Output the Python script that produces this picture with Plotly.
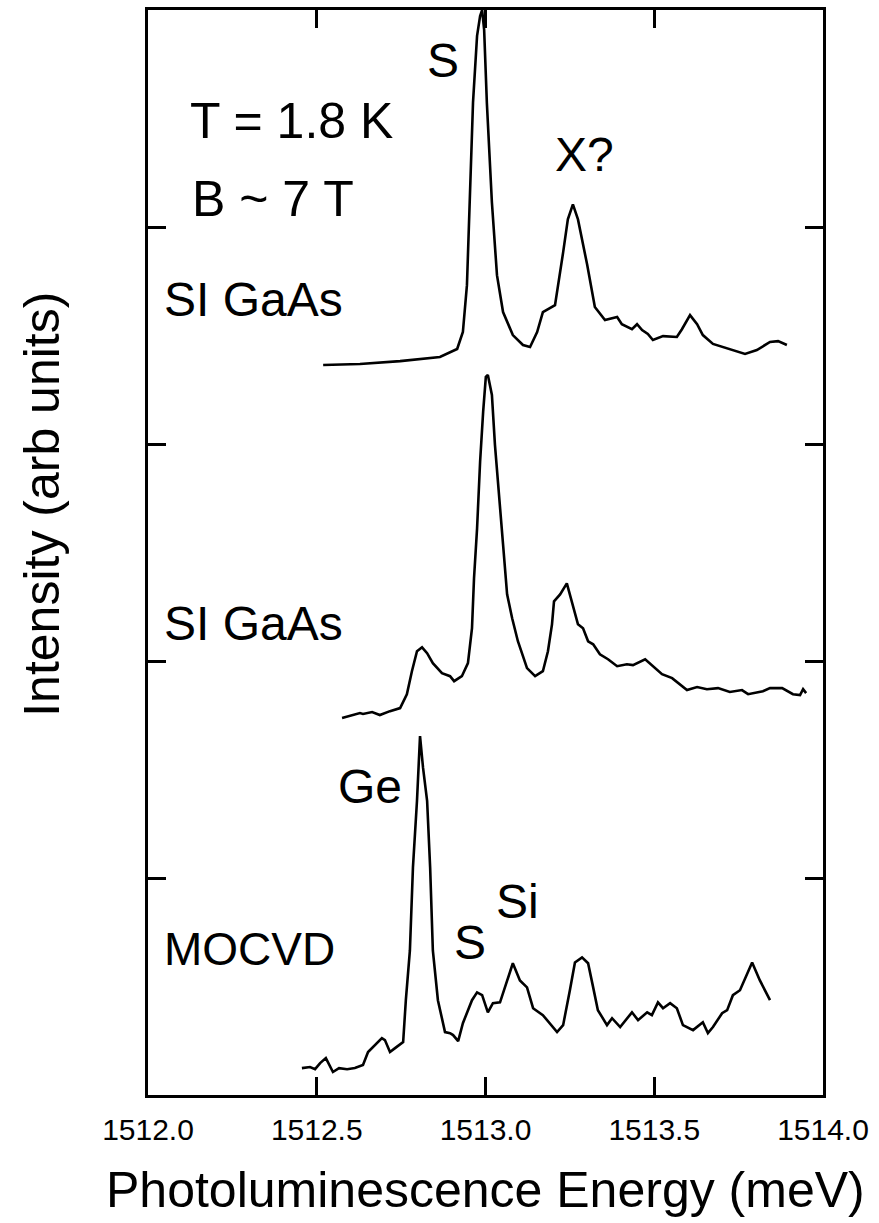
import plotly.graph_objects as go

# ---- data (energy in meV, intensity in arb. units incl. vertical offset) ----
top_energy = [1512.519, 1512.628, 1512.747, 1512.865, 1512.916, 1512.933, 1512.945, 1512.954, 1512.963,
              1512.975, 1512.984, 1512.990, 1512.996, 1513.004, 1513.019, 1513.034, 1513.052, 1513.081,
              1513.111, 1513.132, 1513.153, 1513.170, 1513.206, 1513.230, 1513.244, 1513.259, 1513.274,
              1513.301, 1513.324, 1513.354, 1513.390, 1513.404, 1513.434, 1513.449, 1513.464, 1513.481,
              1513.496, 1513.526, 1513.567, 1513.582, 1513.606, 1513.627, 1513.644, 1513.674, 1513.724,
              1513.769, 1513.804, 1513.843, 1513.867, 1513.893]
top_intensity = [3.364, 3.369, 3.382, 3.401, 3.438, 3.516, 3.732, 4.113, 4.573,
                 4.881, 4.972, 5.000, 4.908, 4.573, 4.113, 3.778, 3.608, 3.502,
                 3.456, 3.447, 3.516, 3.608, 3.640, 3.883, 4.035, 4.104, 4.035,
                 3.828, 3.631, 3.571, 3.585, 3.552, 3.529, 3.552, 3.525, 3.507,
                 3.479, 3.497, 3.493, 3.529, 3.594, 3.552, 3.502, 3.461, 3.438,
                 3.415, 3.433, 3.470, 3.474, 3.456]

mid_energy = [1512.575, 1512.599, 1512.628, 1512.637, 1512.664, 1512.687, 1512.717, 1512.747, 1512.767,
              1512.782, 1512.797, 1512.812, 1512.827, 1512.844, 1512.871, 1512.895, 1512.907, 1512.930,
              1512.948, 1512.960, 1512.966, 1512.975, 1512.984, 1512.993, 1513.001, 1513.007, 1513.019,
              1513.028, 1513.043, 1513.052, 1513.064, 1513.079, 1513.096, 1513.123, 1513.147, 1513.170,
              1513.185, 1513.197, 1513.203, 1513.221, 1513.241, 1513.256, 1513.274, 1513.289, 1513.304,
              1513.319, 1513.339, 1513.363, 1513.390, 1513.419, 1513.437, 1513.473, 1513.496, 1513.523,
              1513.553, 1513.570, 1513.597, 1513.627, 1513.656, 1513.689, 1513.724, 1513.760, 1513.778,
              1513.822, 1513.843, 1513.879, 1513.911, 1513.932, 1513.941, 1513.950]
mid_intensity = [1.737, 1.746, 1.760, 1.756, 1.765, 1.751, 1.769, 1.783, 1.847,
                 1.953, 2.045, 2.063, 2.036, 1.990, 1.944, 1.930, 1.907, 1.930,
                 1.990, 2.151, 2.381, 2.610, 2.918, 3.148, 3.309, 3.318, 3.226,
                 2.996, 2.688, 2.537, 2.307, 2.197, 2.091, 1.967, 1.930, 1.953,
                 2.045, 2.169, 2.275, 2.307, 2.358, 2.275, 2.169, 2.151, 2.091,
                 2.077, 2.031, 2.008, 1.976, 1.985, 1.981, 2.008, 1.976, 1.939,
                 1.921, 1.898, 1.866, 1.880, 1.870, 1.875, 1.857, 1.866, 1.847,
                 1.861, 1.875, 1.875, 1.847, 1.843, 1.870, 1.852]

bot_energy = [1512.456, 1512.480, 1512.495, 1512.510, 1512.527, 1512.548, 1512.566, 1512.590, 1512.613,
              1512.637, 1512.652, 1512.667, 1512.693, 1512.702, 1512.717, 1512.732, 1512.756, 1512.764,
              1512.776, 1512.785, 1512.797, 1512.806, 1512.815, 1512.827, 1512.836, 1512.844, 1512.859,
              1512.880, 1512.895, 1512.904, 1512.919, 1512.933, 1512.960, 1512.975, 1512.990, 1513.007,
              1513.022, 1513.043, 1513.064, 1513.081, 1513.102, 1513.123, 1513.141, 1513.170, 1513.212,
              1513.230, 1513.250, 1513.265, 1513.286, 1513.304, 1513.319, 1513.333, 1513.360, 1513.375,
              1513.399, 1513.434, 1513.452, 1513.479, 1513.493, 1513.511, 1513.526, 1513.547, 1513.567,
              1513.585, 1513.615, 1513.644, 1513.659, 1513.674, 1513.701, 1513.716, 1513.733, 1513.754,
              1513.790, 1513.813, 1513.843]
bot_intensity = [0.124, 0.129, 0.119, 0.147, 0.170, 0.106, 0.124, 0.119, 0.124,
                 0.138, 0.198, 0.221, 0.262, 0.253, 0.198, 0.216, 0.244, 0.437,
                 0.666, 1.048, 1.356, 1.654, 1.507, 1.356, 1.048, 0.666, 0.437,
                 0.290, 0.285, 0.276, 0.248, 0.331, 0.437, 0.473, 0.460, 0.381,
                 0.423, 0.427, 0.528, 0.607, 0.528, 0.496, 0.400, 0.368, 0.290,
                 0.322, 0.483, 0.611, 0.634, 0.607, 0.496, 0.391, 0.322, 0.354,
                 0.313, 0.381, 0.345, 0.381, 0.368, 0.427, 0.400, 0.423, 0.400,
                 0.322, 0.299, 0.335, 0.285, 0.313, 0.377, 0.391, 0.460, 0.483,
                 0.611, 0.528, 0.437]

x_tick_vals = [1512.0, 1512.5, 1513.0, 1513.5, 1514.0]
x_tick_text = ["1512.0", "1512.5", "1513.0", "1513.5", "1514.0"]
y_tick_vals = [1, 2, 3, 4]

# in-plot labels: text, energy, intensity, anchor
label_text = ["S", "T = 1.8 K", "B ~ 7 T", "SI GaAs", "X?", "SI GaAs", "Ge", "S", "Si", "MOCVD"]
label_x = [1512.874, 1512.119, 1512.124, 1512.041, 1513.292, 1512.041, 1512.658, 1512.954, 1513.096, 1512.041]
label_y = [4.766, 4.490, 4.127, 3.667, 4.334, 2.174, 1.420, 0.703, 0.892, 0.671]
label_anchor = ["center", "left", "left", "left", "center", "left", "center", "center", "center", "left"]
label_size = [48, 50, 50, 48, 48, 48, 48, 48, 48, 46]

x_title = "Photoluminescence Energy (meV)"
y_title = "Intensity (arb units)"

FONT = "Liberation Sans, Arial, sans-serif"

fig = go.Figure()
for xs, ys in [(top_energy, top_intensity), (mid_energy, mid_intensity), (bot_energy, bot_intensity)]:
    fig.add_trace(go.Scatter(x=xs, y=ys, mode="lines",
                             line=dict(color="black", width=2.6),
                             showlegend=False, hoverinfo="skip"))

for t, x, y, a, s in zip(label_text, label_x, label_y, label_anchor, label_size):
    fig.add_annotation(x=x, y=y, xref="x", yref="y", text=t, showarrow=False,
                       xanchor=a, yanchor="middle",
                       font=dict(family=FONT, size=s, color="black"))

fig.add_annotation(x=0.5, y=-0.088, xref="paper", yref="paper", text=x_title,
                   showarrow=False, xanchor="center", yanchor="middle",
                   font=dict(family=FONT, size=50, color="black"))
fig.add_annotation(x=-0.157, y=0.544, xref="paper", yref="paper", text=y_title,
                   showarrow=False, xanchor="center", yanchor="middle", textangle=-90,
                   font=dict(family=FONT, size=50, color="black"))

fig.update_xaxes(range=[1512.0, 1514.0], tickvals=x_tick_vals, ticktext=x_tick_text,
                 ticks="inside", ticklen=18, tickwidth=2.5, tickcolor="black",
                 showline=True, linewidth=2.5, linecolor="black", mirror="ticks",
                 showgrid=False, zeroline=False, ticklabelstandoff=6,
                 tickfont=dict(family=FONT, size=30, color="black"))
fig.update_yaxes(range=[0, 5], tickvals=y_tick_vals, showticklabels=False,
                 ticks="inside", ticklen=18, tickwidth=2.5, tickcolor="black",
                 showline=True, linewidth=2.5, linecolor="black", mirror="ticks",
                 showgrid=False, zeroline=False)

fig.update_layout(width=879, height=1223,
                  margin=dict(l=148, r=56, t=7, b=128),
                  paper_bgcolor="white", plot_bgcolor="white",
                  showlegend=False)

fig.write_html("out.html", config={"displayModeBar": False},
               post_script="document.body.style.margin='0';")
